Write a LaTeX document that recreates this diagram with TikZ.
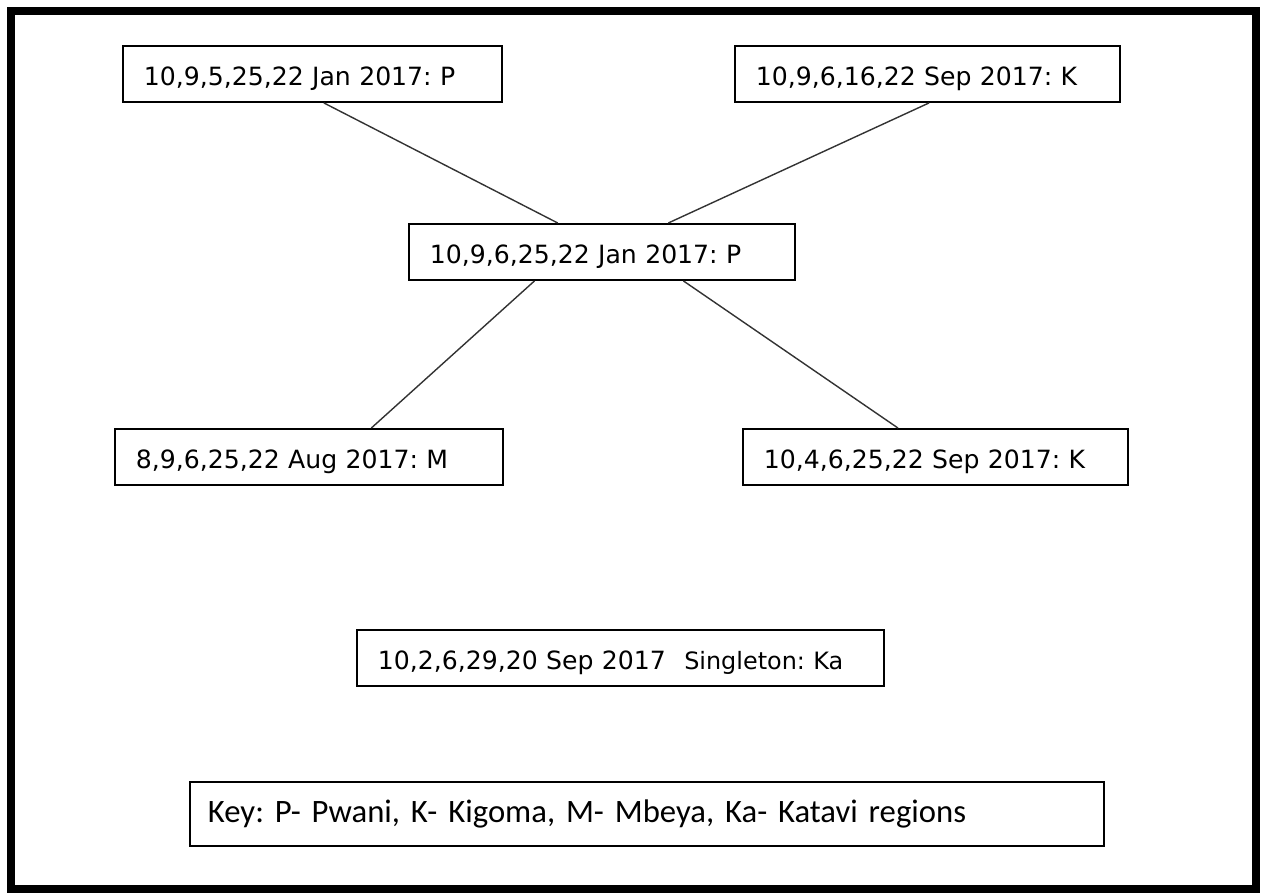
\documentclass[tikz,border=0pt]{standalone}
\usepackage{fontspec}
\setmainfont{DejaVu Sans}
\newfontfamily\keyfont{Carlito}
\usetikzlibrary{calc}
\frenchspacing

\tikzset{
    strain/.style={draw, line width=1.1pt, anchor=north west, inner xsep=0.42cm, inner ysep=0pt,
        minimum height=1.12cm, text height=0.56cm, text depth=0.09cm, align=left,
        font=\fontsize{14.3}{17}\selectfont},
    link/.style={line width=0.8pt, black!80}
}

\begin{document}
\begin{tikzpicture}
        \useasboundingbox (0,0) rectangle (25.28,-17.86);
        % frame
        \draw[line width=0.16cm] (0.22,-0.22) rectangle (25.12,-17.78);
        % boxes
        \node[strain, text width=6.74cm] (pa) at (2.44,-0.90) {10,9,5,25,22 Jan 2017: P};
        \node[strain, text width=6.86cm] (kb) at (14.68,-0.90) {10,9,6,16,22 Sep 2017: K};
        \node[strain, text width=6.88cm] (pc) at (8.16,-4.46) {10,9,6,25,22 Jan 2017: P};
        \node[strain, text width=6.92cm] (md) at (2.28,-8.56) {8,9,6,25,22 Aug 2017: M};
        \node[strain, text width=6.86cm] (ke) at (14.84,-8.56) {10,4,6,25,22 Sep 2017: K};
        \node[strain, text width=9.70cm] (ka) at (7.12,-12.58)
            {10,2,6,29,20 Sep 2017\hspace{0.2cm} {\fontsize{13.6}{15}\selectfont Singleton: Ka}};
        % key
        \node[strain, text width=17.56cm, inner xsep=0.36cm, minimum height=1.28cm,
            text height=0.5cm, text depth=0.14cm,
            font=\keyfont\fontsize{18.6}{23}\selectfont] (key) at (3.78,-15.62)
            {Key: P- Pwani, K- Kigoma, M- Mbeya, Ka- Katavi regions};
        % lines
        \draw[link] ($(pa.south west)!0.530!(pa.south east)$) -- ($(pc.north west)!0.386!(pc.north east)$);
        \draw[link] ($(kb.south west)!0.504!(kb.south east)$) -- ($(pc.north west)!0.671!(pc.north east)$);
        \draw[link] ($(pc.south west)!0.326!(pc.south east)$) -- ($(md.north west)!0.660!(md.north east)$);
        \draw[link] ($(pc.south west)!0.710!(pc.south east)$) -- ($(ke.north west)!0.403!(ke.north east)$);
\end{tikzpicture}
\end{document}
